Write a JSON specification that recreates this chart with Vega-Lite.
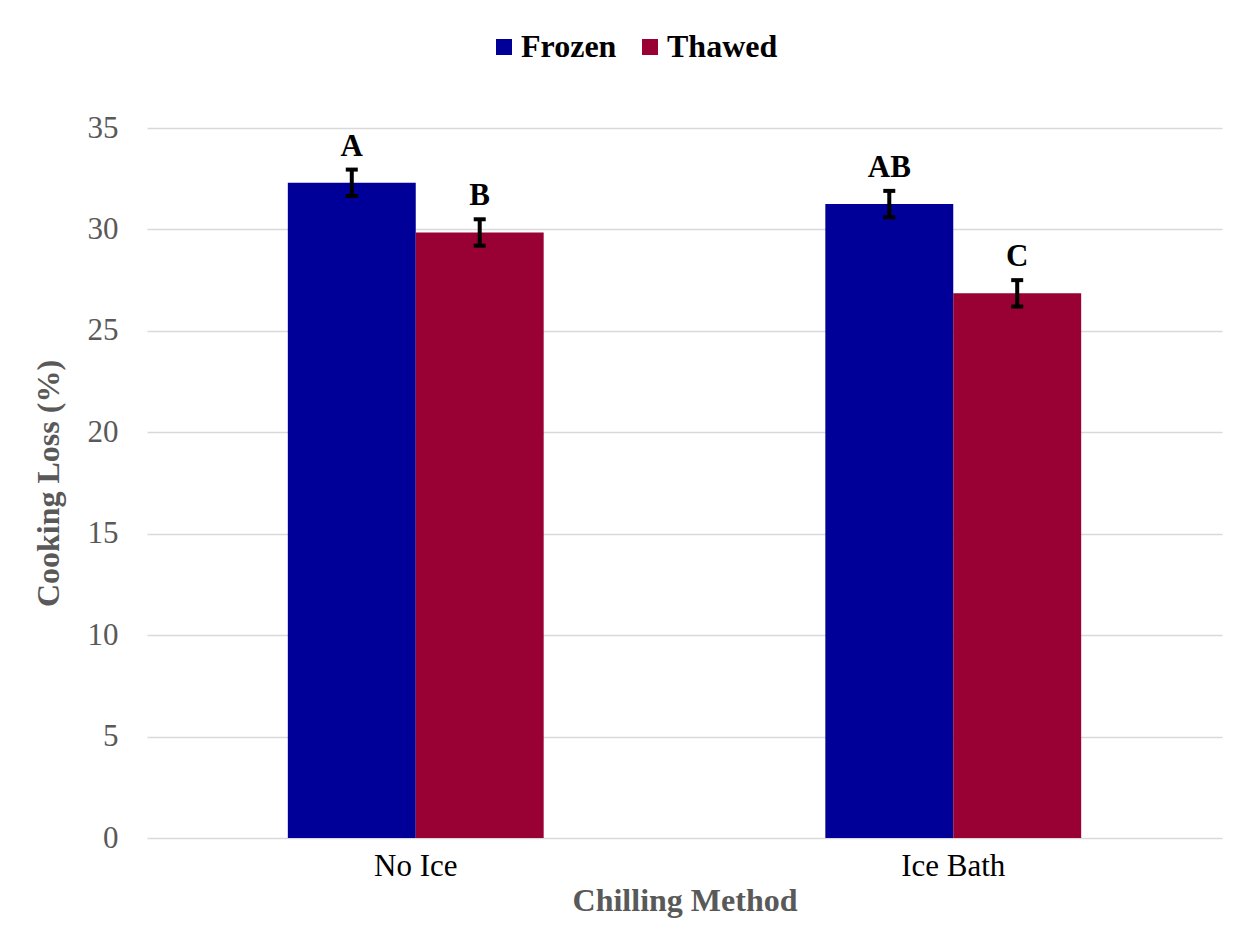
{
  "$schema": "https://vega.github.io/schema/vega-lite/v6.json",
  "autosize": {"type": "none"},
  "width": 1075,
  "height": 710,
  "padding": {"left": 147, "top": 128, "right": 24, "bottom": 96},
  "background": "white",
  "config": {
    "font": "Liberation Serif",
    "view": {"stroke": null}
  },
  "data": {
    "values": [
      {"method": "No Ice", "state": "Frozen", "value": 32.3, "lo": 31.65, "hi": 32.95, "letter": "A"},
      {"method": "No Ice", "state": "Thawed", "value": 29.85, "lo": 29.2, "hi": 30.5, "letter": "B"},
      {"method": "Ice Bath", "state": "Frozen", "value": 31.25, "lo": 30.6, "hi": 31.9, "letter": "AB"},
      {"method": "Ice Bath", "state": "Thawed", "value": 26.85, "lo": 26.2, "hi": 27.5, "letter": "C"}
    ]
  },
  "encoding": {
    "x": {
      "field": "method", "type": "nominal", "sort": ["No Ice", "Ice Bath"],
      "scale": {"paddingInner": 0.524, "paddingOuter": 0.262},
      "axis": {
        "title": "Chilling Method", "labelAngle": 0, "domain": false, "ticks": false,
        "labelFont": "Liberation Serif", "labelFontSize": 31, "labelColor": "#000000", "labelPadding": 13,
        "titleFont": "Liberation Serif", "titleFontSize": 32, "titleFontWeight": "bold", "titleColor": "#595959", "titlePadding": 4
      }
    },
    "xOffset": {"field": "state", "type": "nominal", "sort": ["Frozen", "Thawed"], "scale": {"paddingInner": 0, "paddingOuter": 0}}
  },
  "layer": [
    {
      "mark": {"type": "bar"},
      "encoding": {
        "y": {
          "field": "value", "type": "quantitative",
          "scale": {"domain": [0, 35], "nice": false},
          "axis": {
            "title": "Cooking Loss (%)", "values": [0, 5, 10, 15, 20, 25, 30, 35],
            "domain": false, "ticks": false, "gridColor": "#d9d9d9", "gridWidth": 1.3,
            "labelFont": "Liberation Serif", "labelFontSize": 31, "labelColor": "#595959", "labelPadding": 29,
            "titleFont": "Liberation Serif", "titleFontSize": 32, "titleFontWeight": "bold", "titleColor": "#595959", "titlePadding": 22
          }
        },
        "color": {
          "field": "state", "type": "nominal",
          "scale": {"domain": ["Frozen", "Thawed"], "range": ["#000099", "#990033"]},
          "legend": {
            "title": null, "orient": "none", "direction": "horizontal", "legendX": 341, "legendY": -97,
            "symbolType": "square", "symbolSize": 256, "symbolStrokeWidth": 0, "symbolOpacity": 1,
            "labelFont": "Liberation Serif", "labelFontSize": 32, "labelFontWeight": "bold", "labelColor": "#000000",
            "columnPadding": 17, "labelOffset": 1, "labelLimit": 300
          }
        }
      }
    },
    {
      "mark": {"type": "rule", "color": "#000000", "strokeWidth": 4},
      "encoding": {
        "y": {"field": "lo", "type": "quantitative"},
        "y2": {"field": "hi"}
      }
    },
    {
      "mark": {"type": "tick", "color": "#000000", "thickness": 4, "size": 12, "opacity": 1},
      "encoding": {"y": {"field": "lo", "type": "quantitative"}}
    },
    {
      "mark": {"type": "tick", "color": "#000000", "thickness": 4, "size": 12, "opacity": 1},
      "encoding": {"y": {"field": "hi", "type": "quantitative"}}
    },
    {
      "mark": {"type": "text", "font": "Liberation Serif", "fontSize": 31, "fontWeight": "bold", "color": "#000000", "baseline": "bottom", "dy": -7},
      "encoding": {
        "y": {"field": "hi", "type": "quantitative"},
        "text": {"field": "letter"}
      }
    }
  ]
}
